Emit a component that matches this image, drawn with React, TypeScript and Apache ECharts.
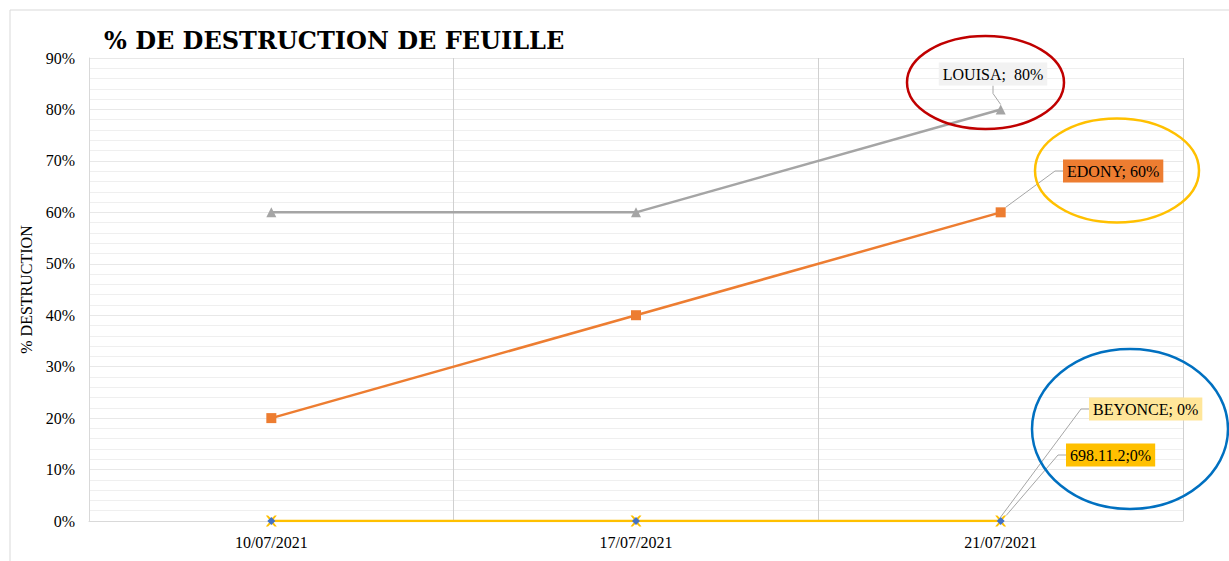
import React, { useEffect, useRef } from "react";
import * as echarts from "echarts";

const categories = ["10/07/2021", "17/07/2021", "21/07/2021"];
const beyonce = [0, 0, 0];
const edony = [20, 40, 60];
const louisa = [60, 60, 80];
const variety = [0, 0, 0];
const yTicks = [0, 10, 20, 30, 40, 50, 60, 70, 80, 90];

const FONT = "Liberation Serif";
const X_PATH = "path://M0,0 L2,0 L5,3 L8,0 L10,0 L6,5 L10,10 L8,10 L5,7 L2,10 L0,10 L4,5 Z";

function lastLabel(name: string, bg: string, sep: string) {
  return {
    show: true,
    formatter: (p: any) => `${name};${sep}${p.value}%`,
    backgroundColor: bg,
    color: "#000",
    fontFamily: FONT,
    fontSize: 16,
    padding: [4, 4, 3, 4],
  };
}

export default function App() {
  const ref = useRef<HTMLDivElement>(null);
  useEffect(() => {
    document.body.style.margin = "0";
    const chart = echarts.init(ref.current!, undefined, { renderer: "svg" });
    const labelPos: Record<number, any> = {
      0: { x: 1089, y: 409, align: "left", verticalAlign: "middle" },
      1: { x: 1063, y: 171, align: "left", verticalAlign: "middle" },
      2: { x: 993, y: 74, align: "center", verticalAlign: "middle" },
      3: { x: 1066, y: 455, align: "left", verticalAlign: "middle" },
    };
    const mkLayout = (idx: number) => (params: any) =>
      params.dataIndex === 2 ? labelPos[idx] : {};
    const mkData = (arr: number[], label: any) =>
      arr.map((v, i) => (i === arr.length - 1 ? { value: v, label } : v));
    const labelLine = { show: true, length2: 8, lineStyle: { color: "#A6A6A6", width: 1 } };

    chart.setOption({
      animation: false,
      title: {
        text: "% DE DESTRUCTION DE FEUILLE",
        left: 99,
        top: 23,
        textStyle: { fontFamily: "DejaVu Serif", fontSize: 24, fontWeight: "bold", color: "#000" },
      },
      graphic: [
        { type: "rect", shape: { x: 10, y: 10, width: 1240, height: 600 }, style: { fill: "none", stroke: "#D9D9D9", lineWidth: 1 }, silent: true, z: -1 },
        { type: "ellipse", shape: { cx: 985.5, cy: 82.5, rx: 78.5, ry: 46.5 }, style: { fill: "none", stroke: "#C00000", lineWidth: 2.5 }, z: 100 },
        { type: "ellipse", shape: { cx: 1117, cy: 170.5, rx: 82, ry: 52 }, style: { fill: "none", stroke: "#FFC000", lineWidth: 2.5 }, z: 100 },
        { type: "ellipse", shape: { cx: 1130, cy: 429, rx: 98, ry: 80 }, style: { fill: "none", stroke: "#0070C0", lineWidth: 2.5 }, z: 100 },
      ],
      grid: { left: 89, right: 46, top: 58, bottom: 40, containLabel: false },
      xAxis: {
        type: "category",
        data: categories,
        boundaryGap: true,
        axisLine: { show: true, lineStyle: { color: "#D9D9D9", width: 1 } },
        axisTick: { show: false },
        splitLine: { show: true, lineStyle: { color: "#D0D0D0", width: 1 } },
        axisLabel: { fontFamily: FONT, fontSize: 16, color: "#000", margin: 13 },
      },
      yAxis: {
        type: "value",
        min: yTicks[0],
        max: yTicks[yTicks.length - 1],
        interval: 10,
        name: "% DESTRUCTION",
        nameLocation: "middle",
        nameRotate: 90,
        nameGap: 50,
        nameTextStyle: { fontFamily: FONT, fontSize: 16, color: "#000" },
        axisLine: { show: true, lineStyle: { color: "#D9D9D9", width: 1 } },
        axisTick: { show: false },
        axisLabel: { fontFamily: FONT, fontSize: 16, color: "#000", margin: 14, formatter: "{value}%" },
        splitLine: { show: true, lineStyle: { color: "#E8E8E8", width: 1 } },
        minorTick: { show: false, splitNumber: 5 },
        minorSplitLine: { show: true, lineStyle: { color: "#EFEFEF", width: 1 } },
      },
      series: [
        {
          name: "BEYONCE", type: "line", data: mkData(beyonce, lastLabel("BEYONCE", "#FFE699", " ")),
          symbol: "diamond", symbolSize: 8, showAllSymbol: true,
          itemStyle: { color: "#4472C4" }, lineStyle: { color: "#4472C4", width: 2.5, opacity: 0 },
          label: { show: false }, labelLine, labelLayout: mkLayout(0), z: 5,
        },
        {
          name: "EDONY", type: "line", data: mkData(edony, lastLabel("EDONY", "#ED7D31", " ")),
          symbol: "rect", symbolSize: 10,
          itemStyle: { color: "#ED7D31" }, lineStyle: { color: "#ED7D31", width: 2.5 },
          label: { show: false }, labelLine, labelLayout: mkLayout(1), z: 4,
        },
        {
          name: "LOUISA", type: "line", data: mkData(louisa, lastLabel("LOUISA", "#F2F2F2", "  ")),
          symbol: "triangle", symbolSize: 10,
          itemStyle: { color: "#A5A5A5" }, lineStyle: { color: "#A5A5A5", width: 2.5 },
          label: { show: false }, labelLine, labelLayout: mkLayout(2), z: 4,
        },
        {
          name: "698.11.2", type: "line", data: mkData(variety, lastLabel("698.11.2", "#FFC000", "")),
          symbol: X_PATH, symbolSize: 11,
          itemStyle: { color: "#FFC000" }, lineStyle: { color: "#FFC000", width: 2.5 },
          label: { show: false }, labelLine, labelLayout: mkLayout(3), z: 3,
        },
      ],
    });
    return () => chart.dispose();
  }, []);
  return <div ref={ref} style={{ position: "fixed", left: 0, top: 0, width: 1229, height: 561, background: "#fff" }} />;
}
